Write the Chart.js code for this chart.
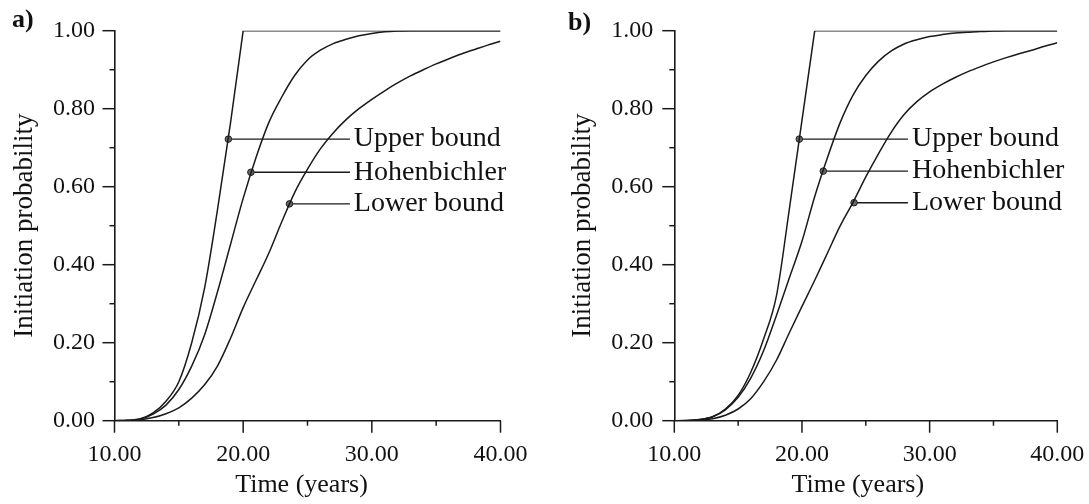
<!DOCTYPE html>
<html><head><meta charset="utf-8">
<script src="https://cdn.jsdelivr.net/npm/chart.js@4/dist/chart.umd.min.js"></script>
<style>
html,body{margin:0;padding:0;background:#fff;}
body{width:1089px;height:504px;position:relative;overflow:hidden;}
canvas{position:absolute;top:0;}
</style></head><body>
<canvas id="ca" width="540" height="504" style="left:0px"></canvas>
<canvas id="cb" width="529" height="504" style="left:560px"></canvas>
<script>
// ---------- data ----------
const years = [10,11,12,13,14,15,16,17,18,19,20,21,22,23,24,25,26,27,28,29,30,31,32,33,34,35,36,37,38,39,40];

// panel a)
const aUpper = [0,0.001,0.005,0.02,0.05,0.10,0.20,0.34,0.54,0.76,1.0,1,1,1,1,1,1,1,1,1,1,1,1,1,1,1,1,1,1,1,1];
const aHohen = [0,0.001,0.004,0.017,0.04,0.08,0.14,0.22,0.33,0.45,0.57,0.675,0.765,0.83,0.885,0.925,0.95,0.967,0.978,0.987,0.993,0.997,0.999,1,1,1,1,1,1,1,1];
const aLower = [0,0,0.002,0.008,0.018,0.033,0.058,0.092,0.14,0.21,0.29,0.36,0.43,0.51,0.585,0.645,0.697,0.738,0.772,0.80,0.824,0.846,0.866,0.884,0.90,0.915,0.928,0.941,0.952,0.963,0.973];

// panel b)
const bUpper = [0,0.0005,0.003,0.01,0.03,0.065,0.125,0.21,0.32,0.54,0.77,1.0,1,1,1,1,1,1,1,1,1,1,1,1,1,1,1,1,1,1,1];
const bHohen = [0,0.0005,0.003,0.01,0.028,0.06,0.11,0.18,0.27,0.365,0.46,0.575,0.675,0.765,0.835,0.885,0.922,0.948,0.966,0.977,0.985,0.99,0.994,0.996,0.998,0.999,1,1,1,1,1];
const bLower = [0,0,0.001,0.005,0.014,0.03,0.057,0.10,0.155,0.225,0.293,0.36,0.43,0.50,0.56,0.625,0.685,0.74,0.785,0.818,0.843,0.863,0.88,0.895,0.908,0.92,0.931,0.941,0.95,0.96,0.969];

// callouts
const seriesNames = ['Upper bound','Hohenbichler','Lower bound'];
const aDotT = [18.85, 20.6, 23.6];
const aDotP = [0.722, 0.637, 0.556];
const aLeadEnd = 28.3, aLabelT = 28.6;
const bDotT = [19.79, 21.67, 24.08];
const bDotP = [0.722, 0.640, 0.559];
const bLeadEnd = 28.3, bLabelT = 28.62;

// axes
const xMin = 10, xMax = 40, xStep = 5;
const yMin = 0, yMax = 1, yStep = 0.1;
const xTitle = 'Time (years)';
const yTitle = 'Initiation probability';

// ---------- helpers ----------
const INK = '#1a1a1a';
const SERIF = "'Liberation Serif','Times New Roman',serif";

function pts(ys){ return years.map((x,i)=>({x:x,y:ys[i]})); }
function splitUpper(ys){
  const k = ys.indexOf(1.0);
  return [years.slice(0,k+1).map((x,i)=>({x:x,y:ys[i]})), years.slice(k).map((x,i)=>({x:x,y:ys[k+i]}))];
}
function curve(data, mono){
  return {data:data, borderColor:INK, borderWidth:1.5, pointRadius:0, fill:false,
    cubicInterpolationMode: mono ? 'monotone' : 'default', tension:0};
}
function callout(t,p,end){
  return {data:[{x:t,y:p},{x:end,y:p}], borderColor:INK, borderWidth:1.4,
    pointRadius:[3.3,0], pointBackgroundColor:'#666', pointBorderColor:'#222', pointBorderWidth:1, tension:0};
}

const ticksPlugin = {
  id:'ticksPlugin',
  afterDraw(chart){
    const o = chart.options.plugins.ticksPlugin;
    const ctx = chart.ctx, xs = chart.scales.x, ys = chart.scales.y;
    const ca = chart.chartArea;
    ctx.save();
    ctx.strokeStyle = INK; ctx.lineWidth = 1.5;
    ys.ticks.forEach(t=>{
      const py = ys.getPixelForValue(t.value);
      const major = Math.round(t.value*10)%2===0;
      const L = major?12:5;
      ctx.beginPath(); ctx.moveTo(ca.left-L, py); ctx.lineTo(ca.left, py); ctx.stroke();
    });
    xs.ticks.forEach(t=>{
      const px = xs.getPixelForValue(t.value);
      const major = Math.round(t.value)%10===0;
      const L = major?12:5;
      ctx.beginPath(); ctx.moveTo(px, ca.bottom); ctx.lineTo(px, ca.bottom+L); ctx.stroke();
    });
    ctx.fillStyle = '#111';
    ctx.font = '26px ' + SERIF;
    ctx.textAlign = 'center'; ctx.textBaseline = 'middle';
    ctx.fillText(xTitle, (ca.left+ca.right)/2 + o.xTitleDx, 485);
    ctx.font = '28px ' + SERIF;
    ctx.textAlign = 'left'; ctx.textBaseline = 'middle';
    o.names.forEach((n,i)=>{
      ctx.fillText(n, xs.getPixelForValue(o.labelT), ys.getPixelForValue(o.dotP[i]));
    });
    ctx.font = 'bold 26px ' + SERIF;
    ctx.textBaseline = 'alphabetic';
    ctx.fillText(o.letter, o.letterX, o.letterY);
    ctx.restore();
  }
};

function makeChart(id, up, ho, lo, dotT, dotP, leadEnd, labelT, cfg){
  const [upCurve, upFlat] = splitUpper(up);
  const datasets = [
    curve(upCurve, true), curve(upFlat, false),
    curve(pts(ho), true), curve(pts(lo), true)
  ];
  dotT.forEach((t,i)=>datasets.push(callout(t, dotP[i], leadEnd)));
  return new Chart(document.getElementById(id), {
    type:'line',
    data:{datasets:datasets},
    plugins:[ticksPlugin],
    options:{
      responsive:false, animation:false, devicePixelRatio:1,
      layout:{padding:{left:0, top:cfg.top, right:cfg.right, bottom:0}},
      plugins:{legend:{display:false}, tooltip:{enabled:false},
        ticksPlugin:{names:seriesNames, dotP:dotP, labelT:labelT, letter:cfg.letter, letterX:cfg.letterX, letterY:cfg.letterY, xTitleDx:cfg.xTitleDx}},
      scales:{
        x:{type:'linear', min:xMin, max:xMax,
          afterFit(s){ s.height = cfg.xH; s.paddingLeft = 0; s.paddingRight = 0; },
          grid:{display:false, drawTicks:false},
          border:{display:true, color:INK, width:1.6},
          ticks:{stepSize:xStep, autoSkip:false, maxRotation:0, padding:20, color:'#111',
            font:{family:SERIF, size:24},
            callback:v=> (Math.round(v)%10===0 ? v.toFixed(2) : '')},
          title:{display:false}
        },
        y:{type:'linear', min:yMin, max:yMax,
          afterFit(s){ s.width = cfg.yW; s.paddingTop = 0; s.paddingBottom = 0; },
          grid:{display:false, drawTicks:false},
          border:{display:true, color:INK, width:1.6},
          ticks:{stepSize:yStep, autoSkip:false, padding:cfg.yPad, color:'#111',
            font:{family:SERIF, size:24},
            callback:v=> (Math.round(v*10)%2===0 ? v.toFixed(2) : '')},
          title:{display:true, text:yTitle, color:'#111', font:{family:SERIF, size:27}, padding:{top:cfg.yTitlePad,bottom:0}}
        }
      }
    }
  });
}

makeChart('ca', aUpper, aHohen, aLower, aDotT, aDotP, aLeadEnd, aLabelT,
  {top:30.7, right:39.5, xH:83.3, yW:114.5, yPad:19.5, yTitlePad:8.8, letter:'a)', letterX:12, letterY:27, xTitleDx:-6});
makeChart('cb', bUpper, bHohen, bLower, bDotT, bDotP, bLeadEnd, bLabelT,
  {top:30.7, right:31.7, xH:83.3, yW:114.3, yPad:21, yTitlePad:6.8, letter:'b)', letterX:8, letterY:30, xTitleDx:-8});
</script>
</body></html>
